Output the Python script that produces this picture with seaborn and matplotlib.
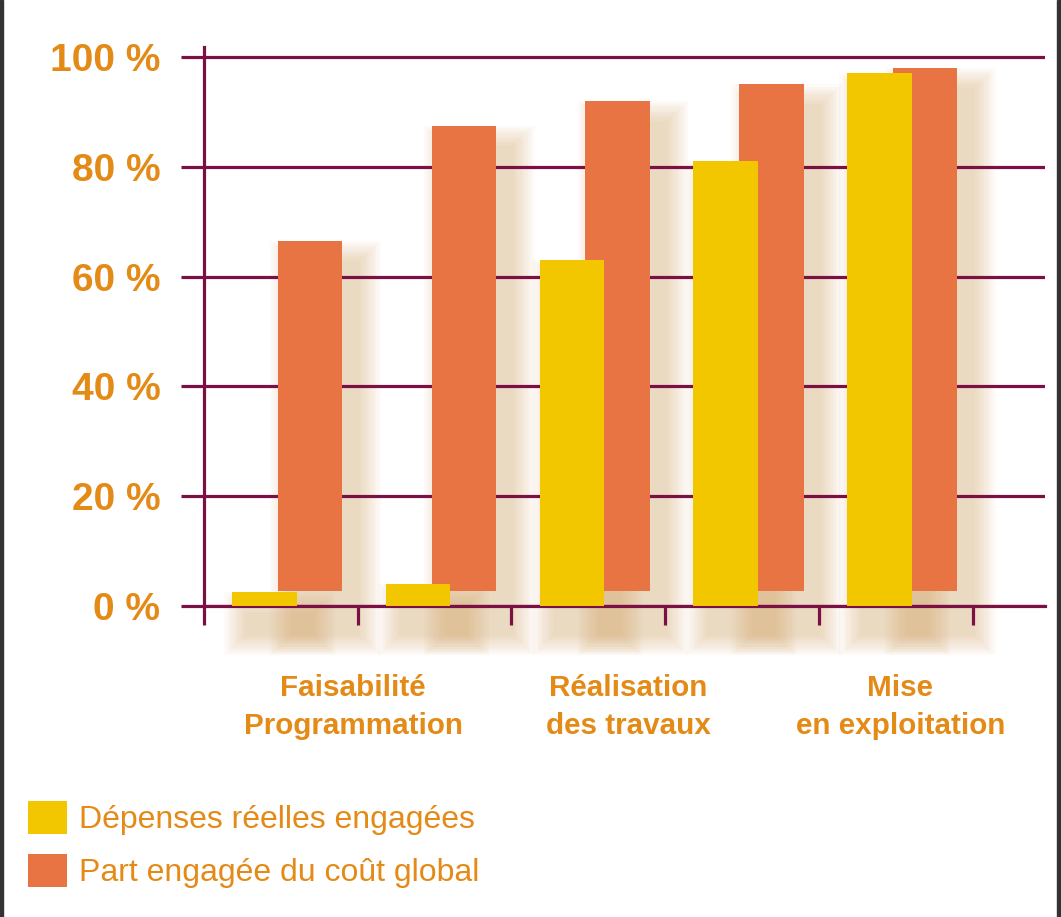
import numpy as np
import pandas as pd
import seaborn as sns
import matplotlib.pyplot as plt
from matplotlib.patches import Rectangle, Patch

# values (% of total)
etapes = [0, 1, 2, 3, 4]
depenses_reelles = [2.5, 4.0, 63.0, 81.0, 97.0]
part_cout_global = [66.5, 87.5, 92.0, 95.0, 98.0]
pct_ticks = [0, 20, 40, 60, 80, 100]
pct_labels = ['0 %', '20 %', '40 %', '60 %', '80 %', '100 %']
phase_labels = ['Faisabilité\nProgrammation', 'Réalisation\ndes travaux', 'Mise\nen exploitation']
phase_pos = [0.47, 2.26, 4.03]
legend_labels = ['Dépenses réelles engagées', 'Part engagée du coût global']

jaune = '#f2c700'
orange = '#e87443'
bordeaux = '#7b1044'
texte = '#e38a17'
ombre = '#d2a25e'

df = pd.DataFrame({'etape': etapes, 'dep': depenses_reelles, 'part': part_cout_global})

sns.set_style('white')
plt.rcParams['font.family'] = ['Liberation Sans', 'DejaVu Sans']

fig = plt.figure(figsize=(10.61, 9.17), dpi=100)
ax = fig.add_axes([204 / 1061, 311 / 917, 841 / 1061, 559 / 917])

# orange bars behind, shifted right, yellow bars in front
sns.barplot(x=df['etape'] + 0.19, y=df['part'], native_scale=True, orient='x', width=0.42,
            color=orange, saturation=1, linewidth=0, ax=ax, zorder=3)
sns.barplot(x=df['etape'] - 0.107, y=df['dep'], native_scale=True, orient='x', width=0.42,
            color=jaune, saturation=1, linewidth=0, ax=ax, zorder=4)

# the orange bars float a little above the baseline (pseudo 3D look)
lift = 2.7
for p in ax.patches[:5]:
    p.set_y(lift)
    p.set_height(p.get_height() - lift)

# soft drop shadows
bars = list(ax.patches)
n = 10
for p in bars:
    x0, w = p.get_x(), p.get_width()
    top = p.get_y() + p.get_height()
    for i in range(n):
        gx = 0.15 * (1 - i / n)
        gy = 4.0 * (1 - i / n)
        r = Rectangle((x0 + 0.1 - gx, -5 - gy), w + 2 * gx, top - 4 + 5 + 2 * gy,
                      facecolor=ombre, edgecolor='none', alpha=0.045, zorder=1, clip_on=False)
        ax.add_patch(r)

ax.set_xlim(-0.5, 4.97)
ax.set_ylim(0, 101.8)
ax.set_xlabel('')
ax.set_ylabel('')

ax.set_yticks(pct_ticks, pct_labels)
ax.set_xticks(np.arange(-0.5, 5, 1), [''] * 6)
ax.set_xticks(phase_pos, phase_labels, minor=True)

ax.set_axisbelow('line')
ax.yaxis.grid(True, color=bordeaux, linewidth=2.3)
ax.xaxis.grid(False)

ax.tick_params(axis='y', which='major', direction='out', length=16.5, width=2.3, color=bordeaux,
               pad=15, labelsize=28, labelcolor=texte, left=True)
ax.tick_params(axis='x', which='major', direction='out', length=13.7, width=2.3, color=bordeaux,
               bottom=True)
ax.tick_params(axis='x', which='minor', length=0, pad=49, labelsize=21.3, labelcolor=texte)
for t in ax.get_yticklabels():
    t.set_fontweight('bold')
for t in ax.get_xticklabels(minor=True):
    t.set_fontweight('bold')
    t.set_linespacing(1.45)

for s in ['top', 'right']:
    ax.spines[s].set_visible(False)
for s in ['left', 'bottom']:
    ax.spines[s].set_color(bordeaux)
    ax.spines[s].set_linewidth(2.3)

handles = [Patch(facecolor=jaune, edgecolor='none'), Patch(facecolor=orange, edgecolor='none')]
leg = fig.legend(handles, legend_labels, loc='upper left', bbox_to_anchor=(25 / 1061, 1 - 798 / 917),
                 frameon=False, handlelength=1.2, handleheight=1.2, handletextpad=0.4,
                 labelspacing=0.58, borderaxespad=0, borderpad=0.1,
                 prop={'size': 23})
for t in leg.get_texts():
    t.set_color(texte)

# dark strips at the left and right edges of the picture
fig.patches.append(Rectangle((0, 0), 3 / 1061, 1, transform=fig.transFigure, color='#333333'))
fig.patches.append(Rectangle((1 - 4 / 1061, 0), 4 / 1061, 1, transform=fig.transFigure, color='#333333'))

fig.savefig('out.png', dpi=100, facecolor='white')
